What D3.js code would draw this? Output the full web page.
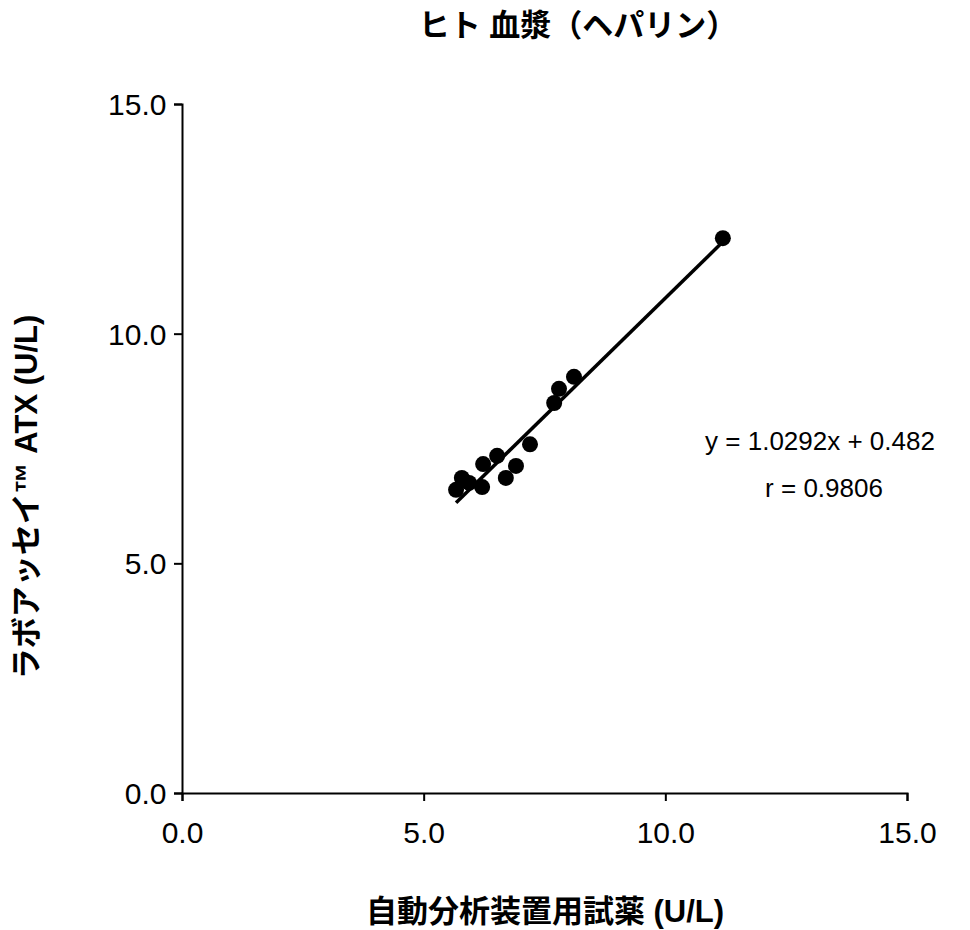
<!DOCTYPE html>
<html><head><meta charset="utf-8">
<script src="https://cdn.jsdelivr.net/npm/d3@7"></script>
<style>body{margin:0;background:#fff}</style>
</head><body>
<svg id="chart" width="970" height="930"></svg>
<script>
const xValues = [8.11, 7.80, 7.70, 7.20, 6.52, 6.23, 6.91, 6.70, 5.79, 6.21, 5.67, 5.94, 11.19];
const yValues = [9.06, 8.80, 8.49, 7.59, 7.34, 7.16, 7.12, 6.86, 6.86, 6.66, 6.60, 6.75, 12.08];
const ticks = [0, 5, 10, 15];
const slope = 1.0292, intercept = 0.482;

const font = "Arial, 'Liberation Sans', 'Noto Sans CJK JP', sans-serif";
const svg = d3.select("#chart").style("font-family", font);

const x = d3.scaleLinear().domain([0, 15]).range([182, 907]);
const y = d3.scaleLinear().domain([0, 15]).range([793, 104]);

// axes
const xa = svg.append("g").attr("transform", "translate(0,793)")
  .call(d3.axisBottom(x).tickValues(ticks).tickFormat(d3.format(".1f")).tickSize(8));
const ya = svg.append("g").attr("transform", "translate(182,0)")
  .call(d3.axisLeft(y).tickValues(ticks).tickFormat(d3.format(".1f")).tickSize(8));
[xa, ya].forEach(a => {
  a.attr("font-size", 30).attr("font-family", font);
  a.select(".domain").attr("stroke", "#000").attr("stroke-width", 2);
  a.selectAll(".tick line").attr("stroke", "#000").attr("stroke-width", 2);
  a.selectAll("text").style("font-size", "30px").attr("fill", "#000");
});
xa.selectAll("text").attr("dy", "1.3em");
ya.selectAll("text").attr("dx", "-0.15em").attr("dy", "0.35em");

// trend line
const x0 = d3.min(xValues), x1 = d3.max(xValues);
svg.append("line")
  .attr("x1", x(x0)).attr("y1", y(slope * x0 + intercept))
  .attr("x2", x(x1)).attr("y2", y(slope * x1 + intercept))
  .attr("stroke", "#000").attr("stroke-width", 3.5);

// points
svg.selectAll("circle").data(xValues).enter().append("circle")
  .attr("cx", d => x(d)).attr("cy", (d, i) => y(yValues[i]))
  .attr("r", 8).attr("fill", "#000");

// texts
svg.append("text").attr("x", 578).attr("y", 36).attr("text-anchor", "middle")
  .style("font-size", "31px").attr("font-weight", "bold").text("ヒト 血漿（ヘパリン）");
svg.append("text").attr("x", 545).attr("y", 922).attr("text-anchor", "middle")
  .style("font-size", "31px").attr("font-weight", "bold").text("自動分析装置用試薬 (U/L)");
svg.append("text").attr("transform", "translate(37,497) rotate(-90)").attr("text-anchor", "middle")
  .style("font-size", "31px").attr("font-weight", "bold").text("ラボアッセイ™ ATX (U/L)");
svg.append("text").attr("x", 820).attr("y", 450).attr("text-anchor", "middle")
  .style("font-size", "26px").text("y = 1.0292x + 0.482");
svg.append("text").attr("x", 824).attr("y", 497).attr("text-anchor", "middle")
  .style("font-size", "26px").text("r = 0.9806");
</script>
</body></html>
